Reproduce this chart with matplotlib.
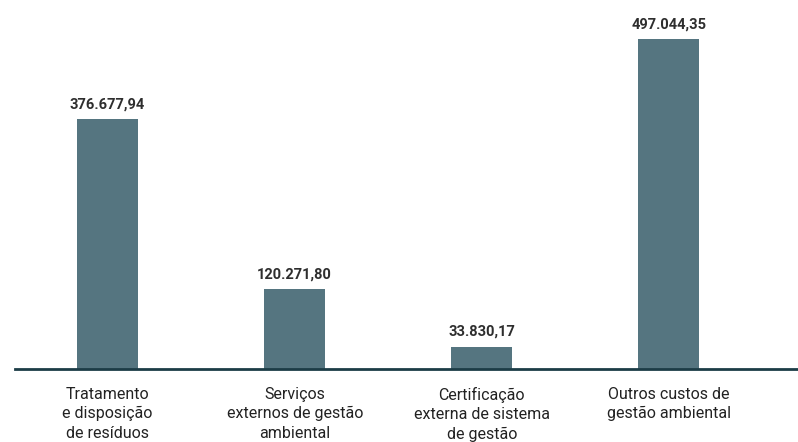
import matplotlib.pyplot as plt

# dados
categorias = [
    "Tratamento\ne disposição\nde resíduos",
    "Serviços\nexternos de gestão\nambiental",
    "Certificação\nexterna de sistema\nde gestão",
    "Outros custos de\ngestão ambiental",
]
valores = [376677.94, 120271.80, 33830.17, 497044.35]
rotulos = ["376.677,94", "120.271,80", "33.830,17", "497.044,35"]

cor_barra = "#557580"
cor_linha = "#1c3c46"

plt.rcParams["font.family"] = ["Roboto", "DejaVu Sans"]

fig = plt.figure(figsize=(7.98, 4.42), dpi=100)
ax = fig.add_axes([0.0, 73 / 442, 1.0, 369 / 442])

x = range(len(valores))
ax.bar(x, valores, width=0.326, color=cor_barra, zorder=2)

for i, (v, r) in enumerate(zip(valores, rotulos)):
    ax.annotate(r, (i, v), xytext=(0, 5.5), textcoords="offset points",
                ha="center", va="bottom", fontsize=10.5, fontweight="bold",
                color="#2e2e2e")

ax.set_xlim(-0.575, 3.69)
ax.set_ylim(0, 497044.35 * 369 / 330)

for s in ["top", "right", "left"]:
    ax.spines[s].set_visible(False)
ax.spines["bottom"].set_color(cor_linha)
ax.spines["bottom"].set_linewidth(2)
ax.spines["bottom"].set_bounds(-0.495, 3.69)

ax.set_yticks([])
ax.set_xticks(list(x))
ax.set_xticklabels(categorias, fontsize=11.5, color="#222222", linespacing=1.35)
ax.tick_params(axis="x", length=0, pad=13)

fig.savefig("out.png", dpi=100)
